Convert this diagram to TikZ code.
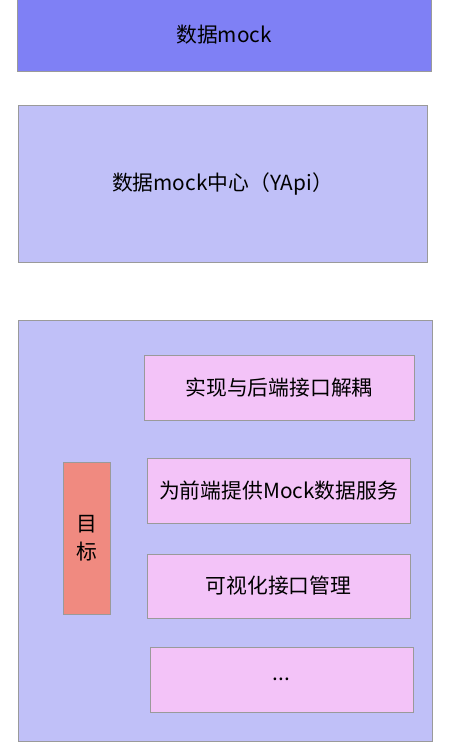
\documentclass[tikz,border=0pt]{standalone}
\usepackage{fontspec}
\setmainfont{Noto Sans CJK SC}
\usetikzlibrary{positioning}

\begin{document}
\begin{tikzpicture}[x = 1pt, y = -1pt]
  \definecolor{mockblue}{HTML}{7F80F5}
  \definecolor{mocklight}{HTML}{C0C0F8}
  \definecolor{goalpink}{HTML}{F3C3F8}
  \definecolor{goalred}{HTML}{F08A80}
  \definecolor{edgegray}{HTML}{9A9A9A}
  \tikzstyle{every node}=[font=\fontsize{20.8}{28}\selectfont]
  \tikzstyle{block}=[draw=edgegray, line width=1pt, rectangle, inner sep=0pt, align=center]
  \tikzstyle{goal}=[block, fill=goalpink, minimum width=263pt, minimum height=65pt]

  \useasboundingbox (0,0) rectangle (448,744);

  \node[block, fill=mockblue, minimum width=414pt, minimum height=72pt] (mock) at (224,35) {数据mock};
  \node[block, fill=mocklight, minimum width=409pt, minimum height=157pt] (yapi) at (222.5,183.5) {数据mock中心（YApi）};
  \node[block, fill=mocklight, minimum width=414pt, minimum height=421pt] (center) at (225,530.5) {};

  \node[block, fill=goalred, minimum width=47pt, minimum height=152pt] (target) at (86.5,538) {目\\标};

  \node[goal, minimum width=270pt] (decouple) at (279,387.5) {实现与后端接口解耦};
  \node[goal] (service) at (278.5,490.5) {为前端提供Mock数据服务};
  \node[goal, minimum height=64pt] (manage) at (278.5,586) {可视化接口管理};
  \node[goal] (more) at (281.5,679.5) {...};

\end{tikzpicture}
\end{document}
